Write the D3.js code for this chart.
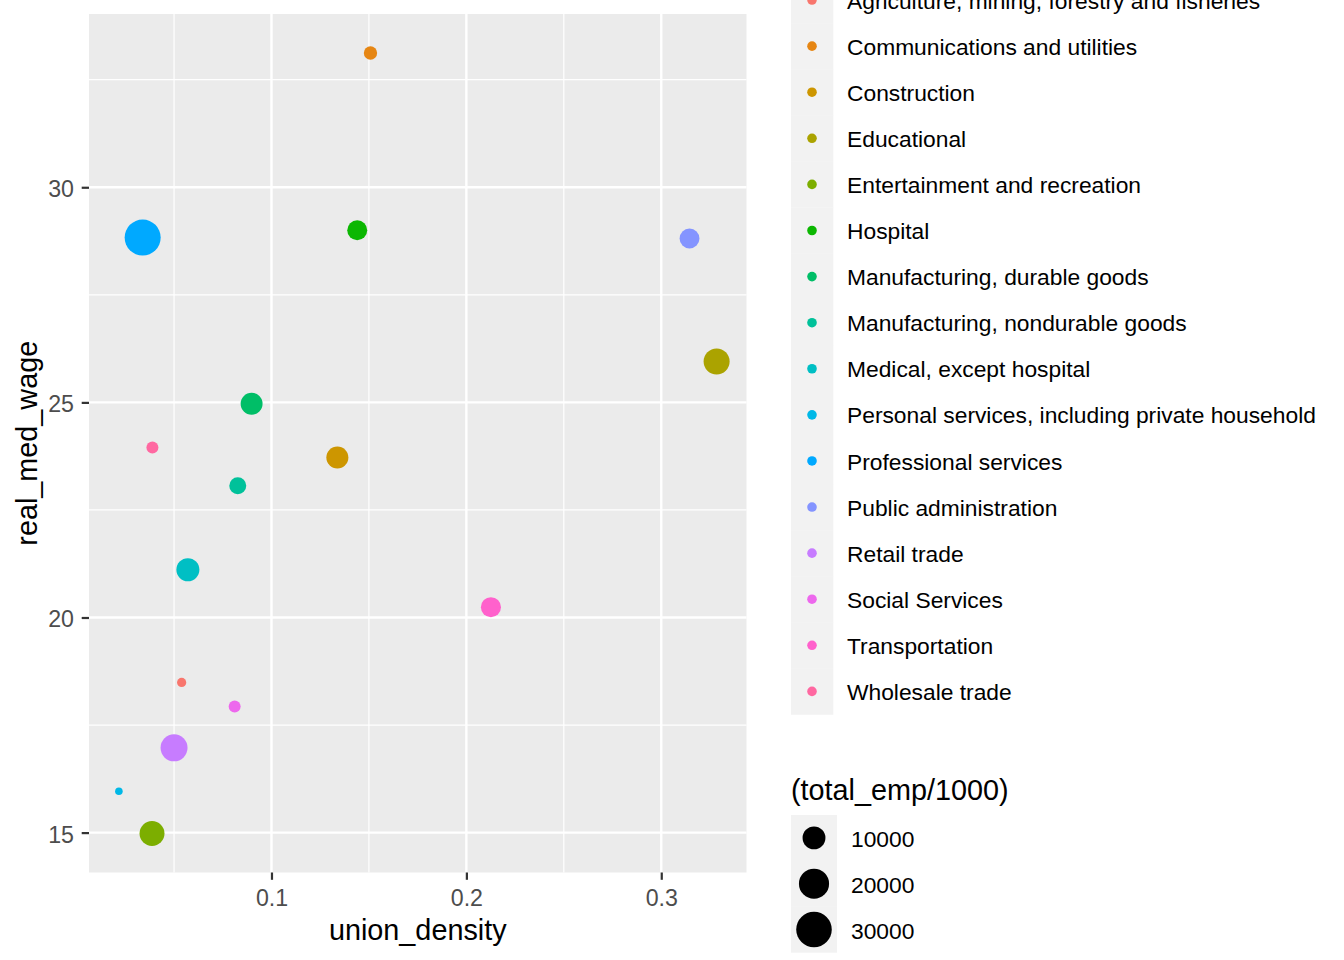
<!DOCTYPE html>
<html>
<head>
<meta charset="utf-8">
<script src="https://cdn.jsdelivr.net/npm/d3@7"></script>
<style>
  html, body { margin: 0; padding: 0; background: #ffffff; }
  svg { display: block; font-family: "Liberation Sans", Arial, sans-serif; }
</style>
</head>
<body>
<svg id="chart" width="1344" height="960"></svg>
<script>
// ---------------- data ----------------
const industries = [
  "Agriculture, mining, forestry and fisheries",
  "Communications and utilities",
  "Construction",
  "Educational",
  "Entertainment and recreation",
  "Hospital",
  "Manufacturing, durable goods",
  "Manufacturing, nondurable goods",
  "Medical, except hospital",
  "Personal services, including private household",
  "Professional services",
  "Public administration",
  "Retail trade",
  "Social Services",
  "Transportation",
  "Wholesale trade"
];
const unionDensity = [0.0539, 0.1508, 0.1338, 0.3284, 0.0387, 0.1440, 0.0898, 0.0827,
                      0.0571, 0.0217, 0.0339, 0.3145, 0.0500, 0.0811, 0.2126, 0.0389];
const realMedWage  = [18.49, 33.12, 23.72, 25.95, 14.98, 29.00, 24.97, 23.06,
                      21.11, 15.96, 28.83, 28.81, 16.97, 17.93, 20.24, 23.95];
const totalEmp     = [1600, 2700, 9100, 13900, 12500, 7100, 9000, 4700,
                      10200, 1500, 31000, 7000, 15200, 2200, 7200, 2200];
const xTicks = [0.1, 0.2, 0.3];
const yTicks = [15, 20, 25, 30];
const sizeBreaks = [10000, 20000, 30000];

// ---------------- helpers ----------------
// R's hcl() (polar LUV) -> sRGB, as used by ggplot2's hue palette
function hclR(h, c, l) {
  const WX = 95.047, WY = 100.0, WZ = 108.883;
  const Wu = 4 * WX / (WX + 15 * WY + 3 * WZ), Wv = 9 * WY / (WX + 15 * WY + 3 * WZ);
  const hr = h * Math.PI / 180;
  const L = l, U = c * Math.cos(hr), V = c * Math.sin(hr);
  const Y = WY * (L > 7.999592 ? Math.pow((L + 16) / 116, 3) : L / 903.3);
  const u = U / (13 * L) + Wu, v = V / (13 * L) + Wv;
  const X = 9.0 * Y * u / (4 * v);
  const Z = -X / 3 - 5 * Y + 3 * Y / v;
  const g = t => t > 0.00304 ? 1.055 * Math.pow(t, 1 / 2.4) - 0.055 : 12.92 * t;
  const cl = t => Math.round(255 * Math.max(0, Math.min(1, g(t))));
  const R = cl((3.240479 * X - 1.537150 * Y - 0.498535 * Z) / WY);
  const G = cl((-0.969256 * X + 1.875992 * Y + 0.041556 * Z) / WY);
  const B = cl((0.055648 * X - 0.204043 * Y + 1.057311 * Z) / WY);
  return d3.rgb(R, G, B).formatHex();
}
const n = industries.length;
const huePalette = d3.range(n).map(i => hclR(15 + i * 360 / n, 100, 65));
const color = d3.scaleOrdinal().domain(industries).range(huePalette);

const data = industries.map((name, i) => ({
  name, x: unionDensity[i], y: realMedWage[i], emp: totalEmp[i]
}));

// ---------------- layout ----------------
const panel = { left: 89, right: 746.5, top: 14, bottom: 872.5 };
const expand = (ext) => { const r = ext[1] - ext[0]; return [ext[0] - 0.05 * r, ext[1] + 0.05 * r]; };

const x = d3.scaleLinear().domain(expand(d3.extent(unionDensity))).range([panel.left, panel.right]);
const y = d3.scaleLinear().domain(expand(d3.extent(realMedWage))).range([panel.bottom, panel.top]);

// ggplot2 scale_size (area): size in [1,6], sqrt of rescaled value
const empExt = d3.extent(totalEmp);
const sizeScale = d3.scalePow().exponent(0.5).domain([0, empExt[1] - empExt[0]]).range([1, 6]).clamp(true);
const PT = 192 / 72; // px per pt
const diam = s => 0.75 * (s * 72.27 / 25.4 + 0.5 * 3.78 / 2) * PT;
const radiusOf = v => diam(sizeScale(v - empExt[0])) / 2;

const svg = d3.select("#chart");

// panel background
svg.append("rect")
  .attr("x", panel.left).attr("y", panel.top)
  .attr("width", panel.right - panel.left).attr("height", panel.bottom - panel.top)
  .attr("fill", "#EBEBEB");

// grid
const xMinor = [0.05, 0.15, 0.25].filter(v => x(v) > panel.left && x(v) < panel.right);
const yMinor = [17.5, 22.5, 27.5, 32.5].filter(v => y(v) > panel.top && y(v) < panel.bottom);

const grid = svg.append("g");
grid.selectAll("line.xmin").data(xMinor).join("line").attr("class", "xmin")
  .attr("x1", d => x(d)).attr("x2", d => x(d)).attr("y1", panel.top).attr("y2", panel.bottom)
  .attr("stroke", "#ffffff").attr("stroke-width", 1.2);
grid.selectAll("line.ymin").data(yMinor).join("line").attr("class", "ymin")
  .attr("y1", d => y(d)).attr("y2", d => y(d)).attr("x1", panel.left).attr("x2", panel.right)
  .attr("stroke", "#ffffff").attr("stroke-width", 1.2);
grid.selectAll("line.xmaj").data(xTicks).join("line").attr("class", "xmaj")
  .attr("x1", d => x(d)).attr("x2", d => x(d)).attr("y1", panel.top).attr("y2", panel.bottom)
  .attr("stroke", "#ffffff").attr("stroke-width", 2.4);
grid.selectAll("line.ymaj").data(yTicks).join("line").attr("class", "ymaj")
  .attr("y1", d => y(d)).attr("y2", d => y(d)).attr("x1", panel.left).attr("x2", panel.right)
  .attr("stroke", "#ffffff").attr("stroke-width", 2.4);

// points
svg.append("g").selectAll("circle").data(data).join("circle")
  .attr("cx", d => x(d.x)).attr("cy", d => y(d.y))
  .attr("r", d => radiusOf(d.emp))
  .attr("fill", d => color(d.name));

// axes
const xAxis = d3.axisBottom(x).tickValues(xTicks).tickSize(7.3).tickPadding(6).tickFormat(d3.format(".1f"));
const gx = svg.append("g").attr("transform", `translate(0,${panel.bottom})`).call(xAxis);
gx.select(".domain").remove();
gx.selectAll(".tick line").attr("stroke", "#333333").attr("stroke-width", 2.2);
gx.selectAll(".tick text").attr("fill", "#4D4D4D").attr("font-size", 23.2)
  .attr("font-family", "Liberation Sans, Arial, sans-serif").attr("dy", null).attr("y", 33);

const yAxis = d3.axisLeft(y).tickValues(yTicks).tickSize(7.3).tickPadding(6);
const gy = svg.append("g").attr("transform", `translate(${panel.left},0)`).call(yAxis);
gy.select(".domain").remove();
gy.selectAll(".tick line").attr("stroke", "#333333").attr("stroke-width", 2.2);
gy.selectAll(".tick text").attr("fill", "#4D4D4D").attr("font-size", 23.2)
  .attr("font-family", "Liberation Sans, Arial, sans-serif").attr("dy", null).attr("y", 9.5).attr("x", -15);

// axis titles
svg.append("text").attr("x", (panel.left + panel.right) / 2).attr("y", 939.5)
  .attr("text-anchor", "middle").attr("font-size", 28.8).attr("fill", "#000000")
  .text("union_density");
svg.append("text")
  .attr("transform", `translate(37,${(panel.top + panel.bottom) / 2}) rotate(-90)`)
  .attr("text-anchor", "middle").attr("font-size", 28.8).attr("fill", "#000000")
  .text("real_med_wage");

// colour legend
const keyStep = 46.09;
const legTop = -23;
const leg = svg.append("g");
leg.selectAll("rect").data(industries).join("rect")
  .attr("x", 791).attr("y", (d, i) => legTop + i * keyStep)
  .attr("width", 42.3).attr("height", keyStep + 0.3)
  .attr("fill", "#F2F2F2");
leg.selectAll("circle").data(industries).join("circle")
  .attr("cx", 812).attr("cy", (d, i) => legTop + keyStep / 2 + i * keyStep)
  .attr("r", 4.8).attr("fill", d => color(d));
leg.selectAll("text").data(industries).join("text")
  .attr("x", 847).attr("y", (d, i) => legTop + keyStep / 2 + i * keyStep + 8.6)
  .attr("font-size", 22.8).attr("fill", "#000000")
  .text(d => d);

// size legend
const sTop = 815;
const sStep = 45.8;
const sl = svg.append("g");
sl.append("text").attr("x", 791).attr("y", 800).attr("font-size", 28.8).attr("fill", "#000000")
  .text("(total_emp/1000)");
sl.selectAll("rect").data(sizeBreaks).join("rect")
  .attr("x", 791).attr("y", (d, i) => sTop + i * sStep)
  .attr("width", 46).attr("height", sStep + 0.3).attr("fill", "#F2F2F2");
sl.selectAll("circle").data(sizeBreaks).join("circle")
  .attr("cx", 814).attr("cy", (d, i) => sTop + sStep / 2 + i * sStep)
  .attr("r", d => radiusOf(d)).attr("fill", "#000000");
sl.selectAll("text.lab").data(sizeBreaks).join("text").attr("class", "lab")
  .attr("x", 851).attr("y", (d, i) => sTop + sStep / 2 + i * sStep + 9)
  .attr("font-size", 22.8).attr("fill", "#000000")
  .text(d => d);
</script>
</body>
</html>
